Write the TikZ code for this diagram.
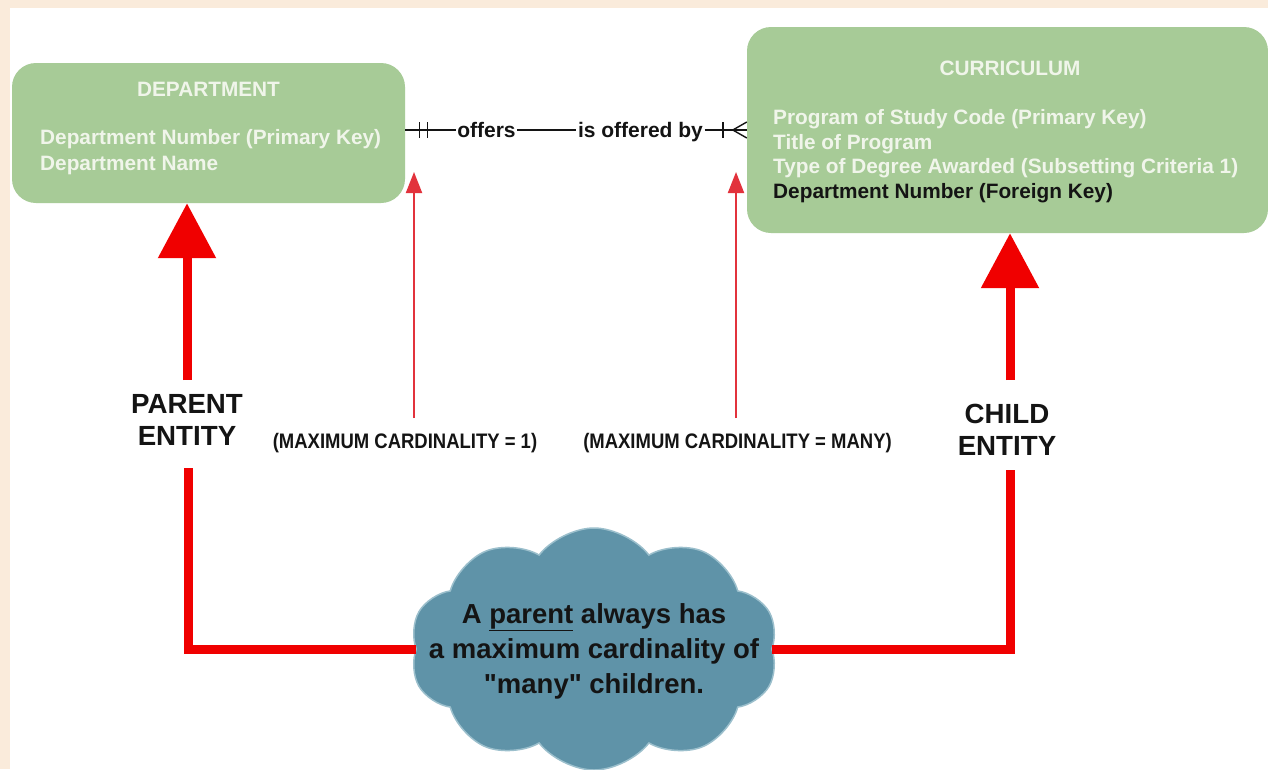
\documentclass[tikz,border=0pt]{standalone}
\usepackage{fontspec}
\setmainfont{Liberation Sans}
\newfontfamily\condsans{Liberation Sans}[FakeStretch=0.88]
\newfontfamily\plainsans{Liberation Sans}[Ligatures=TeXOff]
\usetikzlibrary{arrows.meta,shapes.symbols,calc}
\definecolor{beige}{HTML}{FAEBDB}
\definecolor{boxgreen}{HTML}{A7CB97}
\definecolor{boxtext}{HTML}{F0F5EA}
\definecolor{cloudblue}{HTML}{5F93A8}
\definecolor{cloudedge}{HTML}{9BBFCC}
\definecolor{bigred}{HTML}{F00000}
\definecolor{thinred}{HTML}{E2323C}
\definecolor{darktext}{HTML}{141414}
\begin{document}
\begin{tikzpicture}[x=1pt,y=-1pt,
  entity/.style={fill=boxgreen, rounded corners=24pt, draw=none, inner sep=0},
  boxtitle/.style={text=boxtext, font=\fontsize{20.8}{24}\selectfont\bfseries, inner sep=0},
  attrs/.style={align=left, text=boxtext, inner sep=0, anchor=north west},
  rel/.style={font=\fontsize{21}{22}\selectfont\bfseries, inner sep=1.5pt, text=darktext},
  bigarrow/.style={draw=bigred, line width=9pt, -{Triangle[length=55pt,width=56pt]}},
  thinarrow/.style={draw=thinred, line width=2pt, -{Triangle[length=21pt,width=16pt]}},
  redline/.style={draw=bigred, line width=9pt, line join=miter},
  biglabel/.style={font=\fontsize{27.7}{32}\selectfont\bfseries, align=center, inner sep=0, text=darktext},
  cardlabel/.style={font=\condsans\fontsize{21}{24}\selectfont\bfseries, inner sep=0, text=darktext},
  relline/.style={draw=darktext, line width=1.4pt},
]
\useasboundingbox (0,0) rectangle (1268,769);
\fill[beige] (0,0) rectangle (1268,769);
\fill[white] (10,8) rectangle (1268,769);

% entities
\node[entity, minimum width=393pt, minimum height=140pt] (dept) at (208.5,133) {};
\node[entity, minimum width=521pt, minimum height=206pt] (curr) at (1007.5,130) {};

\node[boxtitle] (dtitle) at (208.5,89) {DEPARTMENT};
\node[attrs, font=\fontsize{20.8}{25.5}\selectfont\bfseries] (dattr) at (40,129.5)
  {Department Number (Primary Key)\\Department Name};

\node[boxtitle] (ctitle) at (1010,68) {CURRICULUM};
\node[attrs, font=\fontsize{20.8}{24.5}\selectfont\bfseries] (cattr) at (773,109.5)
  {Program of Study Code (Primary Key)\\Title of Program\\Type of Degree Awarded (Subsetting Criteria 1)\\{\color{darktext}Department Number (Foreign Key)}};

% relationship
\coordinate (r1) at (dept.east |- curr.west);
\coordinate (r2) at (curr.west);
\node[rel, anchor=base] (offers) at (486.5,137) {offers};
\node[rel, anchor=base] (isoff) at (640.5,137) {is offered by};
\draw[relline] (r1) -- (offers.west |- r1);
\draw[relline] (offers.east |- r1) -- (isoff.west |- r1);
\draw[relline] (isoff.east |- r1) -- (r2);
\draw[relline] ($(r1)+(14,-8)$) -- ++(0,16);
\draw[relline] ($(r1)+(22,-8)$) -- ++(0,16);
\draw[relline] ($(r2)+(-24,-8)$) -- ++(0,16);
\draw[relline] ($(r2)+(-14,0)$) -- ($(r2)+(0,-8)$);
\draw[relline] ($(r2)+(-14,0)$) -- ($(r2)+(0,8)$);

% labels
\node[biglabel] (parent) at (187,419.5) {PARENT\\ENTITY};
\node[biglabel] (child) at (1007,429.5) {CHILD\\ENTITY};
\node[cardlabel, anchor=base] (card1) at (405,448) {(MAXIMUM CARDINALITY = 1)};
\node[cardlabel, anchor=base] (cardn) at (737.5,448) {(MAXIMUM CARDINALITY = MANY)};

% thin arrows
\coordinate (t1) at (414,418);
\coordinate (h1) at (414,172);
\coordinate (t2) at (736,418);
\coordinate (h2) at (736,172);
\draw[thinarrow] (t1) -- (h1);
\draw[thinarrow] (t2) -- (h2);

% big arrows
\coordinate (pa) at (187,380);
\coordinate (ca) at (1010,380);
\draw[bigarrow] (pa) -- (dept.south -| pa);
\draw[bigarrow] (ca) -- (curr.south -| ca);

% cloud
\node[cloud, cloud puffs=10, cloud puff arc=105, aspect=1.5,
      fill=cloudblue, draw=cloudedge, line width=1.5pt,
      minimum width=368pt, minimum height=242pt, inner sep=0] (cloud) at (594,649) {};
\node[align=center, text=darktext, inner sep=0,
      font=\plainsans\fontsize{27.5}{35}\selectfont\bfseries] (cloudtext) at (594,651)
  {A \underline{parent} always has\\a maximum cardinality of\\"many" children.};

\coordinate (pl) at (188,468);
\coordinate (cl) at (1010,470);
\draw[redline] (pl) |- (cloud.west);
\draw[redline] (cloud.east) -| (cl);
\end{tikzpicture}
\end{document}
